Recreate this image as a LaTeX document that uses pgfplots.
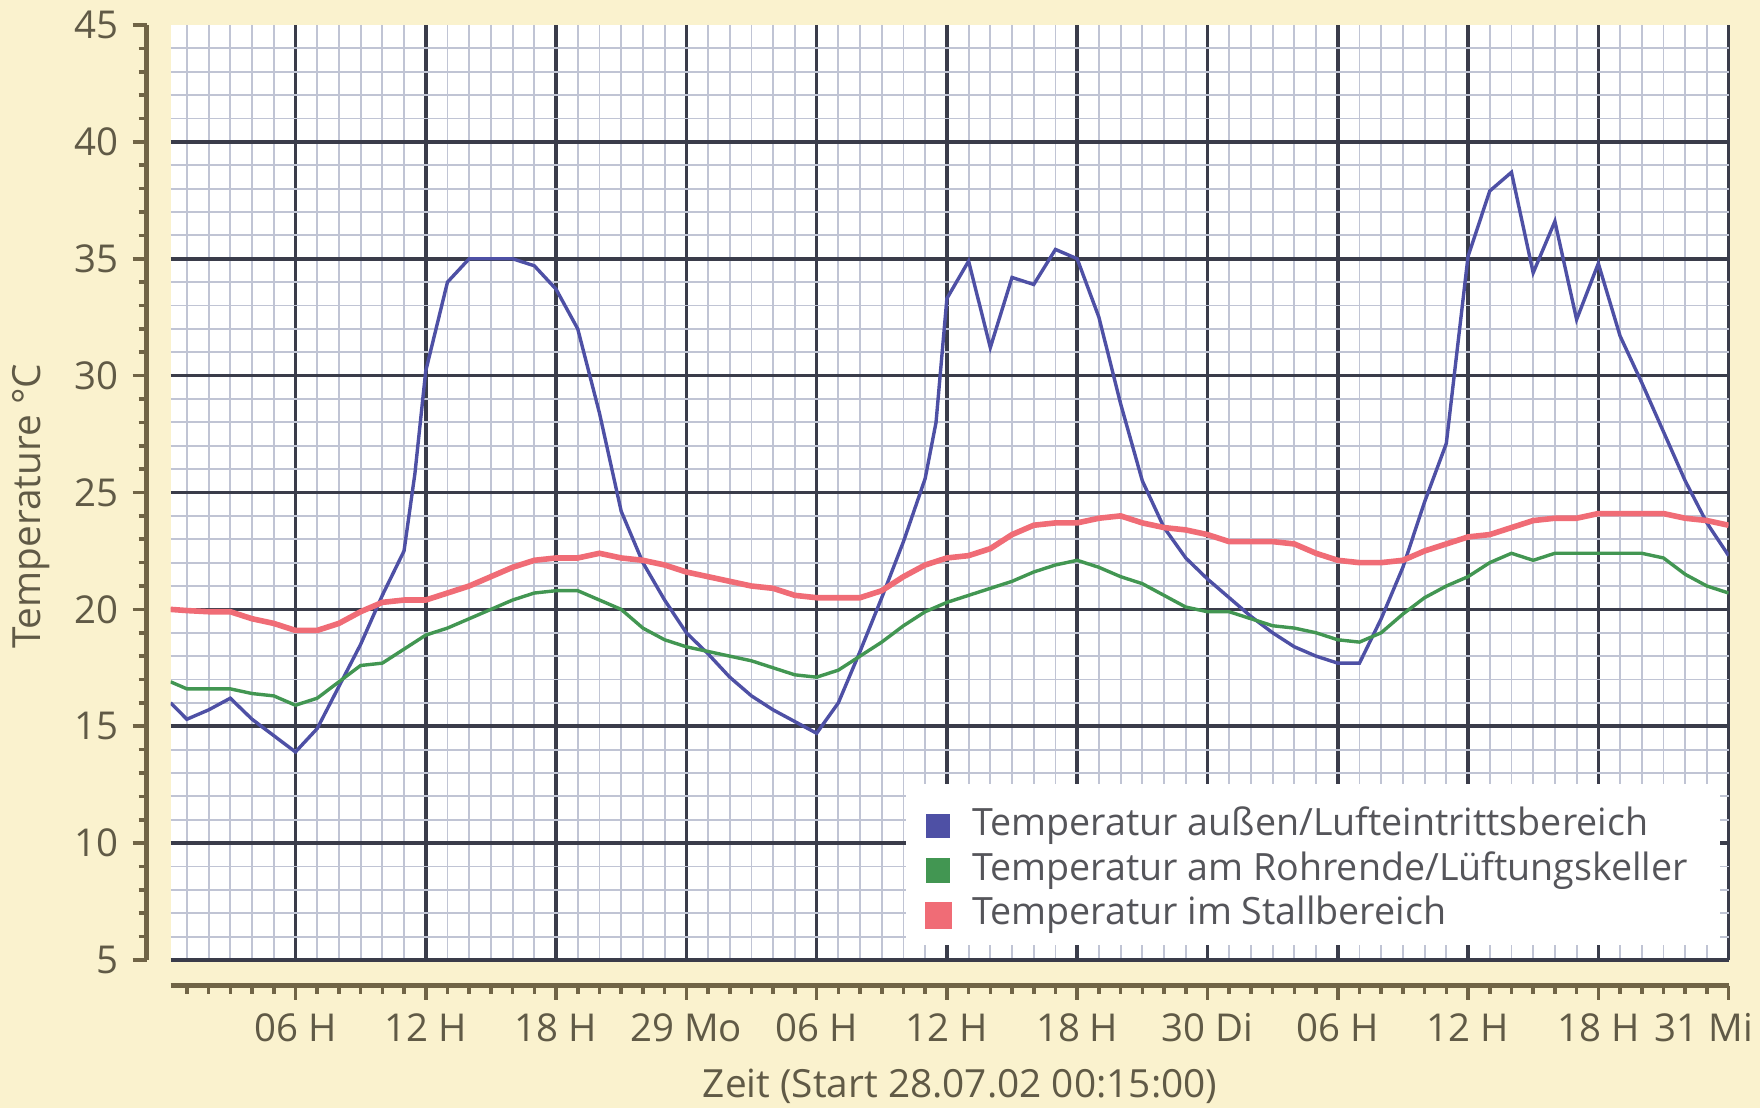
\documentclass[border=0pt]{standalone}
\usepackage{fontspec}
\setmainfont{Open Sans}
\usepackage{pgfplots}
\usepackage{pgfplotstable}
\pgfplotsset{compat=1.18}

\definecolor{bg}{RGB}{250,242,206}
\definecolor{axcol}{RGB}{112,100,70}
\definecolor{txtcol}{RGB}{96,90,70}
\definecolor{legtxt}{RGB}{85,85,90}
\definecolor{majgrid}{RGB}{58,60,74}
\definecolor{mingrid}{RGB}{192,196,212}
\definecolor{cblue}{RGB}{78,80,165}
\definecolor{cgreen}{RGB}{66,150,82}
\definecolor{cred}{RGB}{240,108,118}

\pgfplotstableread{
h T
0.25 16.0
1 15.3
2 15.7
3 16.2
4 15.3
5 14.6
6 13.9
7 14.9
8 16.7
9 18.5
10 20.6
11 22.5
11.5 25.8
12 30.2
13 34.0
14 35.0
15 35.0
16 35.0
17 34.7
18 33.7
19 32.0
20 28.4
21 24.2
22 22.0
23 20.4
24 19.0
25 18.1
26 17.1
27 16.3
28 15.7
29 15.2
30 14.7
31 16.0
32 18.2
33 20.5
34 22.9
35 25.6
35.5 28.0
36 33.3
37 34.9
38 31.2
39 34.2
40 33.9
41 35.4
42 35.0
43 32.5
44 28.8
45 25.5
46 23.5
47 22.2
48 21.3
49 20.5
50 19.7
51 19.0
52 18.4
53 18.0
54 17.7
55 17.7
56 19.6
57 21.8
58 24.6
59 27.1
60 35.1
61 37.9
62 38.7
63 34.4
64 36.6
65 32.4
66 34.8
67 31.7
68 29.7
69 27.6
70 25.5
71 23.7
72 22.3
}\outside

\pgfplotstableread{
h T
0.25 16.9
1 16.6
2 16.6
3 16.6
4 16.4
5 16.3
6 15.9
7 16.2
8 16.9
9 17.6
10 17.7
11 18.3
12 18.9
13 19.2
14 19.6
15 20.0
16 20.4
17 20.7
18 20.8
19 20.8
20 20.4
21 20.0
22 19.2
23 18.7
24 18.4
25 18.2
26 18.0
27 17.8
28 17.5
29 17.2
30 17.1
31 17.4
32 18.0
33 18.6
34 19.3
35 19.9
36 20.3
37 20.6
38 20.9
39 21.2
40 21.6
41 21.9
42 22.1
43 21.8
44 21.4
45 21.1
46 20.6
47 20.1
48 19.9
49 19.9
50 19.6
51 19.3
52 19.2
53 19.0
54 18.7
55 18.6
56 19.0
57 19.8
58 20.5
59 21.0
60 21.4
61 22.0
62 22.4
63 22.1
64 22.4
65 22.4
66 22.4
67 22.4
68 22.4
69 22.2
70 21.5
71 21.0
72 20.7
}\keller

\pgfplotstableread{
h T
0.25 20.0
1 19.95
2 19.9
3 19.9
4 19.6
5 19.4
6 19.1
7 19.1
8 19.4
9 19.9
10 20.3
11 20.4
12 20.4
13 20.7
14 21.0
15 21.4
16 21.8
17 22.1
18 22.2
19 22.2
20 22.4
21 22.2
22 22.1
23 21.9
24 21.6
25 21.4
26 21.2
27 21.0
28 20.9
29 20.6
30 20.5
31 20.5
32 20.5
33 20.8
34 21.4
35 21.9
36 22.2
37 22.3
38 22.6
39 23.2
40 23.6
41 23.7
42 23.7
43 23.9
44 24.0
45 23.7
46 23.5
47 23.4
48 23.2
49 22.9
50 22.9
51 22.9
52 22.8
53 22.4
54 22.1
55 22.0
56 22.0
57 22.1
58 22.5
59 22.8
60 23.1
61 23.2
62 23.5
63 23.8
64 23.9
65 23.9
66 24.1
67 24.1
68 24.1
69 24.1
70 23.9
71 23.8
72 23.6
}\stall

\begin{document}
\begin{tikzpicture}
\path[use as bounding box, fill=bg] (0,0) rectangle (440pt,277pt);
\begin{axis}[
  at={(42.65pt,37pt)}, anchor=south west,
  scale only axis, width=389.5pt, height=233.75pt,
  xmin=0.25, xmax=72, ymin=5, ymax=45,
  axis lines=left,
  axis line style={-, draw=axcol, line width=1.2pt},
  axis x line shift=6.4pt, axis y line shift=6pt,
  axis background/.style={fill=white},
  xtick={6,12,...,72},
  xticklabels={06 H,12 H,18 H,29 Mo,06 H,12 H,18 H,30 Di,06 H,12 H,18 H,{\hspace*{-12.5pt}31 Mi}},
  minor xtick={1,2,...,72},
  ytick={5,10,...,40},
  minor ytick={5,6,...,44},
  extra y ticks={45}, extra tick style={grid=none},
  tick align=outside,
  major tick length=3.5pt, minor tick length=2pt,
  tick style={draw=axcol, line width=0.9pt},
  grid=both,
  major grid style={draw=majgrid, line width=0.9pt},
  minor grid style={draw=mingrid, line width=0.45pt},
  /pgf/number format/assume math mode=true,
  ticklabel style={font=\fontsize{9.6}{11}\selectfont, text=txtcol},
  xlabel={Zeit (Start 28.07.02 00:15:00)},
  ylabel={Temperature °C},
  label style={font=\fontsize{9.7}{11}\selectfont, text=txtcol},
  xlabel style={at={(axis description cs:0.5067,-0.1353)}, anchor=center},
  ylabel style={at={(axis description cs:-0.0896,0.4856)}, anchor=center},
  legend style={at={(0.4843,0.0289)}, anchor=south west, draw=none, fill=none,
    font=\fontsize{9.4}{11}\selectfont, text=legtxt, inner sep=0pt, outer sep=0pt,
    column sep=0pt, row sep=2.4pt,
    nodes={inner sep=0pt, text height=6.8pt, text depth=2pt}},
  legend cell align=left,
  legend image code/.code={\fill[#1] (0pt,-2.6pt) rectangle (5.2pt,2.6pt); \path (10.4pt,0pt);},
]
\addplot[cblue, line width=0.85pt] table[x=h, y=T] {\outside};
\addlegendentry{Temperatur außen/Lufteintrittsbereich}
\addplot[cgreen, line width=0.85pt] table[x=h, y=T] {\keller};
\addlegendentry{Temperatur am Rohrende/Lüftungskeller}
\addplot[cred, line width=1.4pt] table[x=h, y=T] {\stall};
\addlegendentry{Temperatur im Stallbereich}
\fill[white] (rel axis cs:0.4717,0.016) rectangle (rel axis cs:0.9945,0.188);
\end{axis}
\end{tikzpicture}
\end{document}
